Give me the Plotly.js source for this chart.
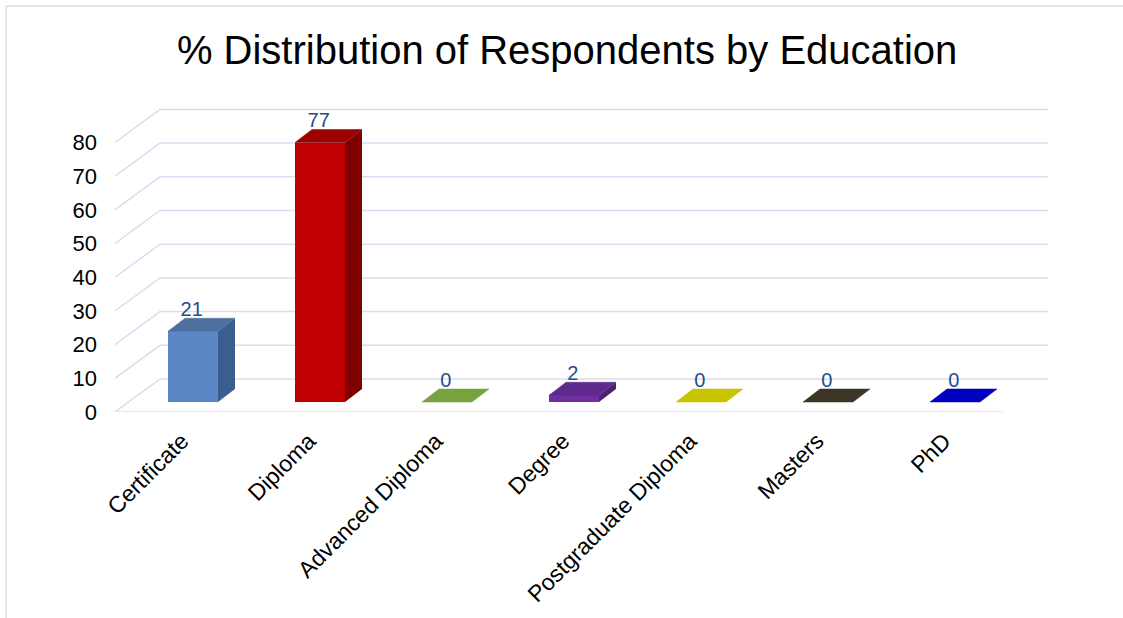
<!DOCTYPE html>
<html>
<head>
<meta charset="utf-8">
<script src="https://cdn.plot.ly/plotly-3.0.1.min.js"></script>
<style>html,body{margin:0;padding:0;background:#fff;}#chart{width:1123px;height:618px;}</style>
</head>
<body>
<div id="chart"></div>
<script>
// ---- data ----
const categories = ['Certificate', 'Diploma', 'Advanced Diploma', 'Degree', 'Postgraduate Diploma', 'Masters', 'PhD'];
const values = [21, 77, 0, 2, 0, 0, 0];
const yTickValues = [0, 10, 20, 30, 40, 50, 60, 70, 80];

// ---- styles ----
const frontColors = ['#5a88c6', '#c00000', '#77a33f', '#7030a0', '#c9c400', '#3d3526', '#0000c0'];
const sideColors  = ['#3a5e90', '#7f0000', '#5d8230', '#4e1f74', '#a09c00', '#2a251b', '#000090'];
const topColors   = ['#4d6fa0', '#9c0000', '#77a33f', '#5f2a8e', '#c9c400', '#3d3526', '#0000c0'];

// ---- geometry (pixels per data unit, pseudo-3D offsets) ----
const PX = 127, PY = 3.37;
const W = 50 / PX;                // bar front width
const DX = 17 / PX, DY = 13 / PY; // bar depth offset
const WX = 45 / PX, WY = 33 / PY; // wall depth offset
const FRONT = -10 / PY;           // front floor relative to bar base
const XMIN = -78 / PX, XMAX = 855 / PX;
const YMIN = -10 / PY, YMAX = 302 / PY;

const traces = [];

// front faces
traces.push({
  type: 'bar', x: categories.map((c, i) => i), y: values, base: 0,
  width: W, marker: {color: frontColors, line: {width: 0}},
  hoverinfo: 'skip', showlegend: false
});

// side faces and top faces
values.forEach((v, i) => {
  const xr = i + W / 2, xl = i - W / 2;
  if (v > 0) {
    traces.push({
      type: 'scatter', mode: 'lines', fill: 'toself',
      x: [xr, xr, xr + DX, xr + DX, xr], y: [0, v, v + DY, DY, 0],
      fillcolor: sideColors[i], line: {width: 0, color: sideColors[i]},
      hoverinfo: 'skip', showlegend: false
    });
  }
  traces.push({
    type: 'scatter', mode: 'lines', fill: 'toself',
    x: [xl, xr, xr + DX, xl + DX, xl], y: [v, v, v + DY, v + DY, v],
    fillcolor: topColors[i], line: {width: 0.5, color: topColors[i]},
    hoverinfo: 'skip', showlegend: false
  });
});

// value labels
traces.push({
  type: 'scatter', mode: 'text',
  x: values.map((v, i) => i - 0.01), y: values.map(v => v + DY - 0.8),
  text: values.map(String), textposition: 'top center',
  textfont: {family: 'Liberation Sans, Arial, sans-serif', size: 20, color: '#1f4e8c'},
  hoverinfo: 'skip', showlegend: false, cliponaxis: false
});

// wall grid shapes
const gridColor = '#d6e0f0';
const shapes = yTickValues.map(v => ({
  type: 'path', xref: 'x', yref: 'y', layer: 'below',
  path: `M ${XMIN} ${v + FRONT} L ${XMIN + WX} ${v + FRONT + WY} L ${XMAX} ${v + FRONT + WY}`,
  line: {color: gridColor, width: 1.5}
}));
shapes.push({
  type: 'line', xref: 'x', yref: 'y', layer: 'below',
  x0: XMIN, x1: XMAX - WX, y0: FRONT, y1: FRONT,
  line: {color: gridColor, width: 1.5}
});
// chart border (top and left edges only)
const bx0 = (6 - 115) / 933, by1 = (412 - 6) / 312;
shapes.push({
  type: 'line', xref: 'paper', yref: 'paper', layer: 'below',
  x0: bx0, x1: (1130 - 115) / 933, y0: by1, y1: by1,
  line: {color: '#d5dfec', width: 1.5}
});
shapes.push({
  type: 'line', xref: 'paper', yref: 'paper', layer: 'below',
  x0: bx0, x1: bx0, y0: by1, y1: (412 - 625) / 312,
  line: {color: '#d5dfec', width: 1.5}
});

const layout = {
  width: 1123, height: 618,
  margin: {l: 115, r: 75, t: 100, b: 206},
  paper_bgcolor: '#ffffff', plot_bgcolor: 'rgba(0,0,0,0)',
  font: {family: 'Liberation Sans, Arial, sans-serif', color: '#000'},
  title: {
    text: '% Distribution of Respondents by Education',
    font: {family: 'Liberation Sans, Arial, sans-serif', size: 40, color: '#000'},
    x: 0.505, xref: 'container', xanchor: 'center',
    y: 1 - 50 / 618, yref: 'container', yanchor: 'middle'
  },
  xaxis: {
    range: [XMIN, XMAX], showgrid: false, zeroline: false, showline: false,
    tickmode: 'array', tickvals: categories.map((c, i) => i), ticktext: categories,
    tickangle: -45, ticks: '', ticklabelstandoff: 10, ticklabelshift: -11,
    tickfont: {size: 23, color: '#000'}, fixedrange: true
  },
  yaxis: {
    range: [YMIN, YMAX], showgrid: false, zeroline: false, showline: false,
    tickmode: 'array', tickvals: yTickValues.map(v => v + FRONT), ticktext: yTickValues.map(String),
    ticks: '', ticklabelstandoff: 17,
    tickfont: {size: 22, color: '#000'}, fixedrange: true
  },
  shapes: shapes,
  bargap: 0
};

Plotly.newPlot('chart', traces, layout, {staticPlot: true, displayModeBar: false});
</script>
</body>
</html>
